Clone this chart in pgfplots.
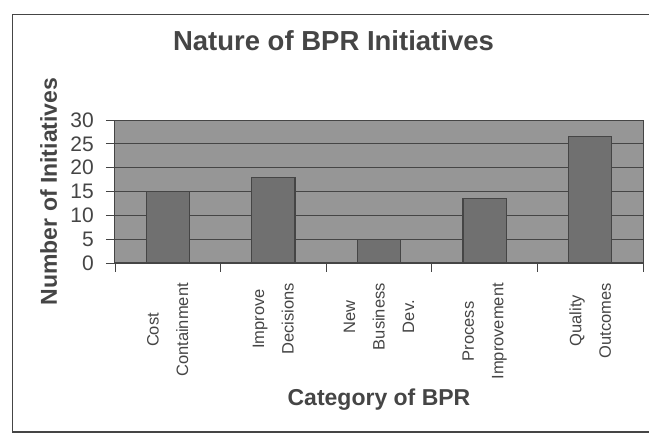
\documentclass[border=0pt]{standalone}
\usepackage{fontspec}
\setmainfont{Liberation Sans}
\usepackage{pgfplots}
\pgfplotsset{compat=1.18}
\definecolor{ink}{gray}{0.27}
\definecolor{plotbg}{gray}{0.59}
\definecolor{barfill}{gray}{0.44}
\pgfplotstableread{
x y
0 15
1 18
2 5
3 13.5
4 26.5
}\bprdata
\begin{document}
\begin{tikzpicture}[x=1pt,y=1pt]
\path[use as bounding box] (0,0) rectangle (649,434);
\draw[ink, line width=1.5pt] (660,419.5) -- (12.5,419.5) -- (12.5,2) -- (660,2);
\begin{axis}[
  at={(115pt,171pt)}, anchor=south west,
  scale only axis, width=528pt, height=143pt,
  xmin=-0.5, xmax=4.5, ymin=0, ymax=30,
  axis background/.style={fill=plotbg},
  axis line style={ink, line width=1pt},
  ybar, bar width=0.41,
  ymajorgrids, grid style={ink, line width=0.9pt},
  ytick={0,5,...,30},
  xtick={-0.5,0.5,...,4.5},
  x tick label as interval,
  xticklabels={{Cost\\Containment},{Improve\\Decisions},{New\\Business\\Dev.},{Process\\Improvement},{Quality\\Outcomes}},
  xtick pos=bottom, ytick pos=left,
  tick align=outside, major tick length=9pt,
  tick style={ink, line width=0.9pt},
  /pgf/number format/assume math mode=true,
  yticklabel style={font=\fontsize{21}{23}\selectfont, text=ink, anchor=east, inner sep=0pt, xshift=-12pt},
  xticklabel style={font=\fontsize{16.5}{29.5}\selectfont, text=ink, yshift=-11pt, rotate=90, anchor=east, align=center, inner sep=0pt},
  title={Nature of BPR Initiatives},
  title style={at={(axis description cs:0.4138,1.4427)}, anchor=base, font=\fontsize{27.5}{30}\selectfont\bfseries, text=ink},
  xlabel={Category of BPR},
  xlabel style={at={(axis description cs:0.5,-0.9965)}, anchor=base, font=\fontsize{23}{26}\selectfont\bfseries, text=ink},
  ylabel={Number of Initiatives},
  ylabel style={at={(axis description cs:-0.1256,0.5)}, anchor=center, font=\fontsize{23}{26}\selectfont\bfseries, text=ink},
]
\addplot[fill=barfill, draw=ink, line width=1.2pt] table[x=x,y=y] {\bprdata};
\end{axis}
\end{tikzpicture}
\end{document}
